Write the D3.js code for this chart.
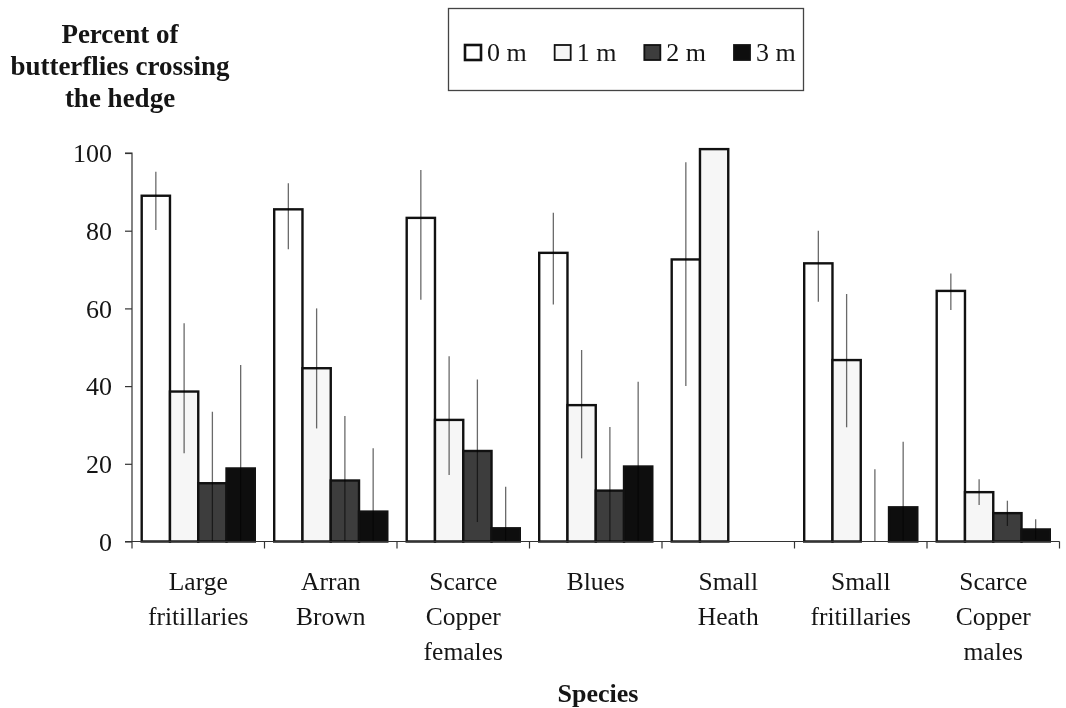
<!DOCTYPE html>
<html>
<head>
<meta charset="utf-8">
<script src="https://cdn.jsdelivr.net/npm/d3@7"></script>
<style>
  html, body { margin: 0; padding: 0; background: #fff; }
  svg { display: block; font-family: "Liberation Serif", "Times New Roman", serif; }
</style>
</head>
<body>
<svg id="chart" width="1066" height="708"></svg>
<script>
// Percent of butterflies crossing a hedge, by species and distance (0–3 m)
const species = ["Large fritillaries", "Arran Brown", "Scarce Copper females", "Blues",
                 "Small Heath", "Small fritillaries", "Scarce Copper males"];
const speciesLines = [["Large", "fritillaries"], ["Arran", "Brown"], ["Scarce", "Copper", "females"],
                      ["Blues"], ["Small", "Heath"], ["Small", "fritillaries"], ["Scarce", "Copper", "males"]];
const distances = ["0 m", "1 m", "2 m", "3 m"];

const pct0m = [89.0, 85.5, 83.3, 74.3, 72.6, 71.6, 64.5];
const pct1m = [38.6, 44.6, 31.3, 35.1, 101.0, 46.7, 12.7];
const pct2m = [15.0, 15.7, 23.3, 13.1, 0, 0, 7.3];
const pct3m = [18.8, 7.7, 3.4, 19.3, 0, 8.8, 3.1];

// error bar limits (upper / lower), null where no bar is drawn
const upper0m = [95.2, 92.2, 95.6, 84.6, 97.6, 80.0, 69.0];
const lower0m = [80.2, 75.2, 62.2, 61.0, 40.0, 61.7, 59.6];
const upper1m = [56.2, 60.0, 47.7, 49.3, null, 63.7, 16.0];
const lower1m = [22.7, 29.1, 17.1, 21.4, null, 29.4, 9.4];
const upper2m = [33.4, 32.3, 41.7, 29.5, null, 18.6, 10.5];
const lower2m = [0, 0, 5.0, 0, null, 0, 4.0];
const upper3m = [45.4, 24.0, 14.1, 41.1, null, 25.7, 5.7];
const lower3m = [0, 0, 0, 0, null, 0, 0.5];

const yTicks = [0, 20, 40, 60, 80, 100];

const values = [pct0m, pct1m, pct2m, pct3m];
const uppers = [upper0m, upper1m, upper2m, upper3m];
const lowers = [lower0m, lower1m, lower2m, lower3m];
const fills = ["#ffffff", "#f6f6f6", "#3d3d3d", "#0e0e0e"];

const rows = [];
species.forEach((sp, i) => {
  distances.forEach((d, j) => {
    rows.push({ species: sp, dist: d, value: values[j][i], hi: uppers[j][i], lo: lowers[j][i] });
  });
});

const svg = d3.select("#chart");
const plot = { left: 132, right: 1059.5, top: 153, bottom: 541.5 };
const ink = "#151515";

const y = d3.scaleLinear().domain([0, 100]).range([plot.bottom, plot.top]);
const x0 = d3.scaleBand().domain(species).range([plot.left, plot.right]).padding(0);
const groupPad = 9.7;
const x1 = d3.scaleBand().domain(distances).range([groupPad, x0.bandwidth() - groupPad]).padding(0);
const color = d3.scaleOrdinal().domain(distances).range(fills);

// bars
svg.append("g")
  .selectAll("rect")
  .data(rows.filter(r => r.value > 0))
  .join("rect")
  .attr("x", r => x0(r.species) + x1(r.dist))
  .attr("y", r => y(r.value))
  .attr("width", x1.bandwidth())
  .attr("height", r => y(0) - y(r.value))
  .attr("fill", r => color(r.dist))
  .attr("stroke", "#111")
  .attr("stroke-width", 2.4);

// error bars (thin lines, no caps)
svg.append("g")
  .style("mix-blend-mode", "multiply")
  .selectAll("line")
  .data(rows.filter(r => r.hi !== null))
  .join("line")
  .attr("x1", r => x0(r.species) + x1(r.dist) + x1.bandwidth() / 2)
  .attr("x2", r => x0(r.species) + x1(r.dist) + x1.bandwidth() / 2)
  .attr("y1", r => y(r.hi))
  .attr("y2", r => y(r.lo))
  .attr("stroke", "#6a6a6a")
  .attr("stroke-width", 1.3);

// y axis
const yAxis = d3.axisLeft(y).tickValues(yTicks).tickSize(7).tickPadding(13).tickFormat(d3.format("d"));
const gy = svg.append("g").attr("transform", `translate(${plot.left},0)`).call(yAxis);
gy.select(".domain").attr("stroke", "#333").attr("stroke-width", 1.2).attr("d", `M-7,${plot.top}H0V${plot.bottom}H-7`);
gy.selectAll(".tick line").attr("stroke", "#333").attr("stroke-width", 1.2);
gy.selectAll(".tick text")
  .attr("fill", ink)
  .style("font-family", "Liberation Serif, serif")
  .style("font-size", "26px")
  .attr("dy", "0.34em");

// x axis line with boundary ticks between species
const gx = svg.append("g");
gx.append("line")
  .attr("x1", plot.left).attr("x2", plot.right)
  .attr("y1", y(0)).attr("y2", y(0))
  .attr("stroke", "#333").attr("stroke-width", 1.2);
const bounds = species.map(s => x0(s)).concat([plot.right]);
gx.selectAll("line.tick")
  .data(bounds)
  .join("line")
  .attr("class", "tick")
  .attr("x1", d => d).attr("x2", d => d)
  .attr("y1", y(0)).attr("y2", y(0) + 7)
  .attr("stroke", "#333").attr("stroke-width", 1.2);

// species labels
const labels = svg.append("g");
species.forEach((sp, i) => {
  const cx = x0(sp) + x0.bandwidth() / 2;
  const t = labels.append("text")
    .attr("x", cx)
    .attr("y", 590)
    .attr("text-anchor", "middle")
    .attr("fill", ink)
    .style("font-size", "25.5px");
  speciesLines[i].forEach((ln, k) => {
    t.append("tspan").attr("x", cx).attr("dy", k === 0 ? 0 : 35).text(ln);
  });
});

// axis titles
const yTitle = svg.append("text")
  .attr("x", 120).attr("y", 43)
  .attr("text-anchor", "middle")
  .attr("fill", ink)
  .style("font-weight", "bold")
  .style("font-size", "27px");
["Percent of", "butterflies crossing", "the hedge"].forEach((ln, k) => {
  yTitle.append("tspan").attr("x", 120).attr("dy", k === 0 ? 0 : 32).text(ln);
});

svg.append("text")
  .attr("x", 598).attr("y", 702)
  .attr("text-anchor", "middle")
  .attr("fill", ink)
  .style("font-weight", "bold")
  .style("font-size", "26px")
  .text("Species");

// legend
const legend = svg.append("g");
legend.append("rect")
  .attr("x", 448.5).attr("y", 8.5).attr("width", 355).attr("height", 82)
  .attr("fill", "#fff").attr("stroke", "#444").attr("stroke-width", 1.3);
const legendX = d3.scalePoint().domain(distances).range([464, 733]);
const legendStroke = [2.6, 1.8, 1.8, 1.8];
distances.forEach((d, j) => {
  const g = legend.append("g").attr("transform", `translate(${legendX(d)},44)`);
  g.append("rect")
    .attr("x", 1).attr("y", 1).attr("width", 16).attr("height", 15)
    .attr("fill", color(d)).attr("stroke", "#111").attr("stroke-width", legendStroke[j]);
  g.append("text")
    .attr("x", 23).attr("y", 16.5)
    .attr("fill", ink)
    .style("font-size", "26px")
    .text(d);
});
</script>
</body>
</html>
